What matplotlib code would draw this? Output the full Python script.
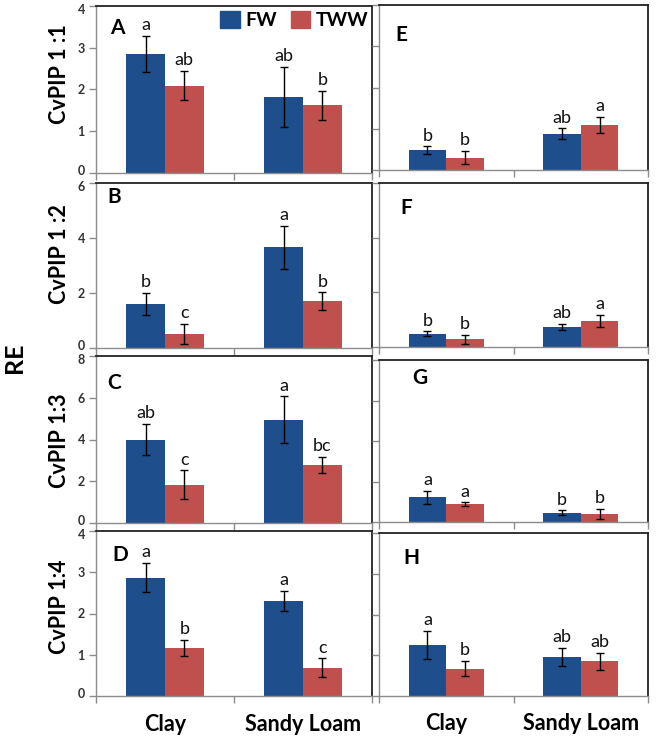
import matplotlib
matplotlib.use("Agg")
import matplotlib.pyplot as plt
import matplotlib.transforms as mtransforms
from matplotlib.patches import Patch

plt.rcParams['font.family'] = ['Lato', 'DejaVu Sans']

soils = ["Clay", "Sandy Loam"]
series = ["FW", "TWW"]

# values: [Clay, Sandy Loam]
fw_A, fw_A_err = [2.86, 1.82], [0.43, 0.72]
tww_A, tww_A_err = [2.09, 1.62], [0.35, 0.34]
fw_B, fw_B_err = [1.59, 3.67], [0.40, 0.78]
tww_B, tww_B_err = [0.51, 1.70], [0.38, 0.32]
fw_C, fw_C_err = [3.99, 4.94], [0.75, 1.12]
tww_C, tww_C_err = [1.83, 2.77], [0.69, 0.39]
fw_D, fw_D_err = [2.87, 2.31], [0.35, 0.24]
tww_D, tww_D_err = [1.16, 0.69], [0.20, 0.22]
fw_E, fw_E_err = [0.48, 0.88], [0.09, 0.13]
tww_E, tww_E_err = [0.30, 1.09], [0.16, 0.20]
fw_F, fw_F_err = [0.48, 0.73], [0.09, 0.12]
tww_F, tww_F_err = [0.28, 0.95], [0.17, 0.22]
fw_G, fw_G_err = [1.23, 0.45], [0.32, 0.12]
tww_G, tww_G_err = [0.89, 0.40], [0.08, 0.24]
fw_H, fw_H_err = [1.25, 0.96], [0.35, 0.23]
tww_H, tww_H_err = [0.67, 0.85], [0.19, 0.21]

# significance letters
fw_A_let, tww_A_let = ["a", "ab"], ["ab", "b"]
fw_B_let, tww_B_let = ["b", "a"], ["c", "b"]
fw_C_let, tww_C_let = ["ab", "a"], ["c", "bc"]
fw_D_let, tww_D_let = ["a", "a"], ["b", "c"]
fw_E_let, tww_E_let = ["b", "ab"], ["b", "a"]
fw_F_let, tww_F_let = ["b", "ab"], ["b", "a"]
fw_G_let, tww_G_let = ["a", "b"], ["a", "b"]
fw_H_let, tww_H_let = ["a", "ab"], ["b", "ab"]

row_labels = ["CvPIP 1 :1", "CvPIP 1 :2", "CvPIP 1:3", "CvPIP 1:4"]
y_max = [4, 6, 8, 4]
y_step = [1, 2, 2, 1]

blue = "#1f4e8c"
red = "#c0504d"
grey = "#8c8c8c"

W, H = 660, 740
fig = plt.figure(figsize=(6.6, 7.4), dpi=100)


def px_axes(x0, x1, y0, y1):
    return fig.add_axes([x0 / W, 1 - y1 / H, (x1 - x0) / W, (y1 - y0) / H])


left_rows = [(6, 173), (183, 348), (356, 523), (531, 696)]
right_rows = [(5, 170), (183, 347), (360, 522), (533, 696)]

panels = [
    ("A", fw_A, fw_A_err, tww_A, tww_A_err, fw_A_let, tww_A_let),
    ("B", fw_B, fw_B_err, tww_B, tww_B_err, fw_B_let, tww_B_let),
    ("C", fw_C, fw_C_err, tww_C, tww_C_err, fw_C_let, tww_C_let),
    ("D", fw_D, fw_D_err, tww_D, tww_D_err, fw_D_let, tww_D_let),
    ("E", fw_E, fw_E_err, tww_E, tww_E_err, fw_E_let, tww_E_let),
    ("F", fw_F, fw_F_err, tww_F, tww_F_err, fw_F_let, tww_F_let),
    ("G", fw_G, fw_G_err, tww_G, tww_G_err, fw_G_let, tww_G_let),
    ("H", fw_H, fw_H_err, tww_H, tww_H_err, fw_H_let, tww_H_let),
]
# where the panel letter sits (axes fraction, left / top)
letter_pos = [(0.05, 0.93), (0.04, 0.975), (0.04, 0.90), (0.06, 0.915),
              (0.06, 0.88), (0.08, 0.91), (0.125, 0.95), (0.09, 0.91)]
# vertical centre of the row labels (axes fraction)
label_y = [0.59, 0.57, 0.49, 0.54]

bw = 0.28
xs = [0, 1]

for i, (name, fw, fwe, tw, twe, fwl, twl) in enumerate(panels):
    col, row = divmod(i, 4)
    if col == 0:
        ax = px_axes(96, 372, *left_rows[row])
    else:
        ax = px_axes(379, 648, *right_rows[row])

    x_fw = [x - bw / 2 for x in xs]
    x_tw = [x + bw / 2 for x in xs]
    ax.bar(x_fw, fw, bw, color=blue, zorder=2)
    ax.bar(x_tw, tw, bw, color=red, zorder=2)
    ax.errorbar(x_fw, fw, yerr=fwe, fmt="none", ecolor="black", elinewidth=1,
                capsize=3, capthick=1, zorder=3)
    ax.errorbar(x_tw, tw, yerr=twe, fmt="none", ecolor="black", elinewidth=1,
                capsize=3, capthick=1, zorder=3)
    for xx, v, e, t in list(zip(x_fw, fw, fwe, fwl)) + list(zip(x_tw, tw, twe, twl)):
        ax.annotate(t, (xx, v + e), xytext=(0, 2), textcoords="offset points",
                    ha="center", va="bottom", fontsize=13, color="#111111")

    ax.set_xlim(-0.5, 1.5)
    ax.set_ylim(0, y_max[row])
    ax.set_yticks(range(0, y_max[row] + 1, y_step[row]))
    ax.set_xticks([-0.5, 0.5, 1.5])
    ax.set_xticklabels([])
    ax.tick_params(axis="x", length=5, color=grey, width=1)
    ax.tick_params(axis="y", length=5, color=grey, width=1, labelsize=9,
                   pad=3, labelcolor="#333333")
    if col == 1:
        ax.set_yticklabels([])
    else:
        labs = ax.get_yticklabels()
        for lab in labs:
            lab.set_fontweight("bold")
        # nudge end labels apart so the stacked panels don't collide
        labs[0].set_transform(labs[0].get_transform() +
                              mtransforms.ScaledTranslation(0, 3 / 100, fig.dpi_scale_trans))
        labs[-1].set_transform(labs[-1].get_transform() +
                               mtransforms.ScaledTranslation(0, -3 / 100, fig.dpi_scale_trans))
    for s in ["top", "right"]:
        ax.spines[s].set_color("#222222")
        ax.spines[s].set_linewidth(1.3)
    for s in ["left", "bottom"]:
        ax.spines[s].set_color(grey)
        ax.spines[s].set_linewidth(1)

    lx, ly = letter_pos[i]
    ax.text(lx, ly, name, transform=ax.transAxes, fontsize=15,
            fontweight="bold", ha="left", va="top")

    if col == 0:
        ax.text(-0.134, label_y[row], row_labels[row], transform=ax.transAxes,
                rotation=90, ha="center", va="center", fontsize=15.5,
                fontweight="bold")
    if row == 3:
        for x, s in zip(xs, soils):
            ax.text(x, -0.17, s, transform=ax.get_xaxis_transform(),
                    ha="center", va="center", fontsize=15.5, fontweight="bold")
    if i == 0:
        handles = [Patch(color=blue), Patch(color=red)]
        ax.legend(handles, series, loc="upper left", bbox_to_anchor=(0.45, 0.97),
                  ncol=2, frameon=False, handlelength=1.0, handleheight=1.0,
                  columnspacing=0.7, handletextpad=0.3, borderpad=0,
                  borderaxespad=0, prop={"weight": "bold", "size": 14})

fig.text(15 / W, 1 - 358 / H, "RE", rotation=90, ha="center", va="center",
         fontsize=18, fontweight="bold")

fig.savefig("out.png", dpi=100)
